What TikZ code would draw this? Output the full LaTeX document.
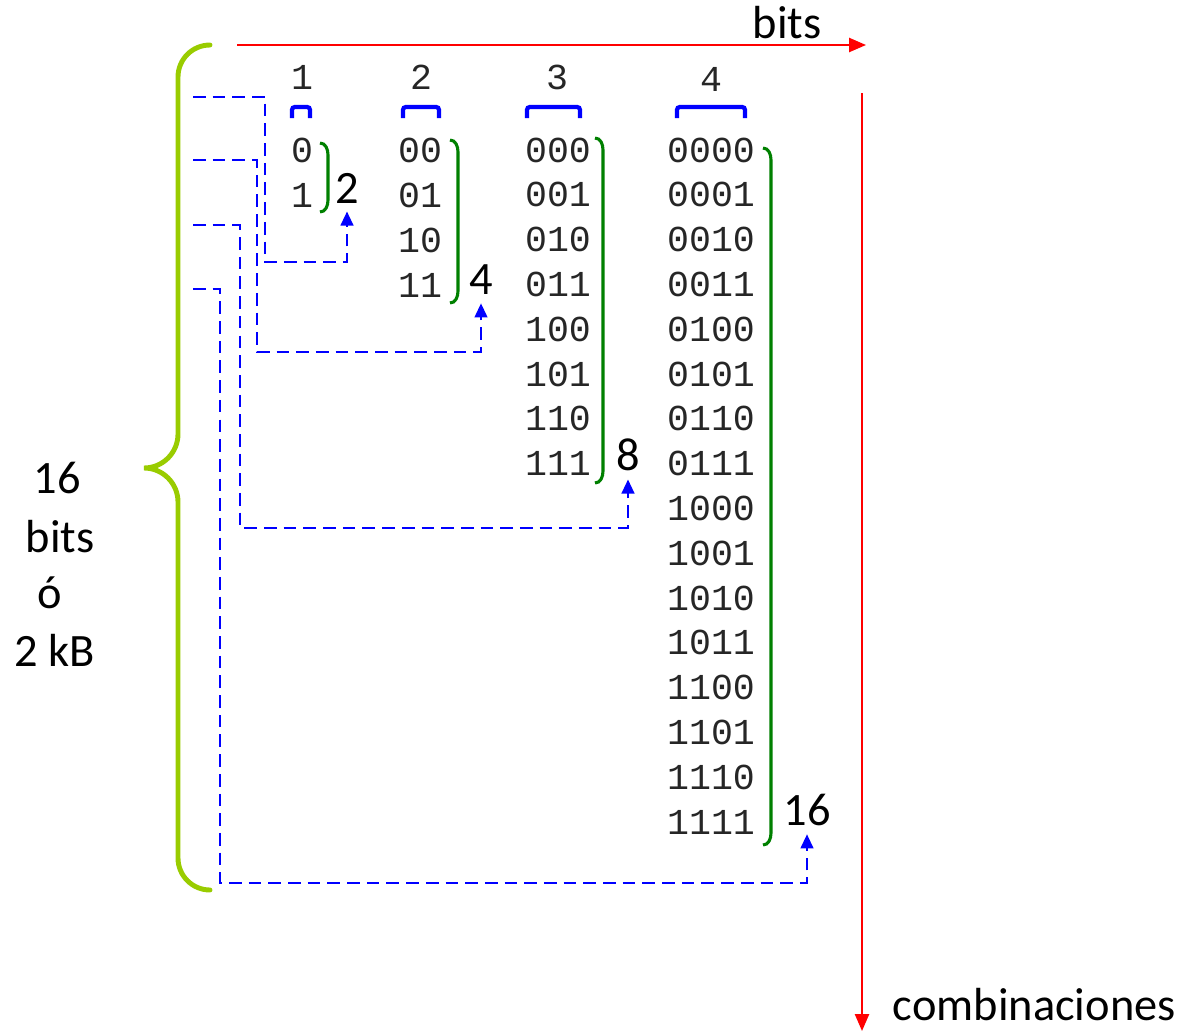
\documentclass[tikz,border=0pt]{standalone}
\usepackage{fontspec}
\setmainfont{Carlito}
\newfontfamily\bitfont{Liberation Mono}
\usetikzlibrary{arrows.meta}

\definecolor{bracegreen}{RGB}{153,204,0}
\definecolor{groupgreen}{RGB}{0,128,0}

\tikzset{
	bitcell/.style={font=\bitfont\fontsize{26}{26}\selectfont, text=black!85, inner sep=0pt},
	countlbl/.style={font=\fontsize{33}{33}\selectfont, inner sep=1pt, outer sep=5pt},
	sidelbl/.style={font=\fontsize{33}{33}\selectfont, inner sep=0pt},
	axisline/.style={red, line width=1.4pt, -{Triangle[length=12pt,width=10pt]}},
	linkline/.style={blue, line width=1.6pt, dash pattern=on 9pt off 5pt, -{Triangle[length=10pt,width=9pt]}},
	headbr/.style={blue, line width=3pt, rounded corners=2pt},
	groupbr/.style={groupgreen, line width=2.2pt},
}

\begin{document}
\begin{tikzpicture}[x=0.025cm, y=-0.025cm]
	\useasboundingbox (0,0) rectangle (1190,1033);

	% Ejes
	\coordinate (bx0) at (237,45);
	\coordinate (bx1) at (866,45);
	\coordinate (cy0) at (862,93);
	\coordinate (cy1) at (862,1031);
	\draw[axisline] (bx0) -- (bx1);
	\draw[axisline] (cy0) -- (cy1);
	\node[sidelbl] (bitslbl) at (787,23) {bits};
	\node[sidelbl, anchor=east] (comblbl) at (1176,1005) {combinaciones};

	% Encabezados
	\foreach \n/\x/\y in {1/302/77, 2/421/77, 3/557/77, 4/711/79}
		\node[bitcell] (h\n) at (\x,\y) {\n};
	\foreach \xa/\xb in {292/310, 403/439, 527/580, 677/745}
		\draw[headbr] (\xa,118) -- (\xa,107) -- (\xb,107) -- (\xb,118);

	% Combinaciones
	\foreach \v [count=\i from 0] in {0,1}
		\node[bitcell] (a\i) at (302,{150+45*\i}) {\v};
	\foreach \v [count=\i from 0] in {00,01,10,11}
		\node[bitcell] (b\i) at (420,{150+45*\i}) {\v};
	\foreach \v [count=\i from 0] in {000,001,010,011,100,101,110,111}
		\node[bitcell] (c\i) at (558,{150+44.8*\i}) {\v};
	\foreach \v [count=\i from 0] in {0000,0001,0010,0011,0100,0101,0110,0111,1000,1001,1010,1011,1100,1101,1110,1111}
		\node[bitcell] (d\i) at (711,{150+44.8*\i}) {\v};

	% Corchetes verdes
	\foreach \xl/\yt/\yb in {320/143/212, 450/140/303, 595/138/483, 763/148/845}
		\draw[groupbr] (\xl,\yt) to[out=0,in=90] ({\xl+8},{\yt+12}) -- ({\xl+8},{\yb-12}) to[out=-90,in=0] (\xl,\yb);

	% Totales
	\node[countlbl] (n2) at (347,188) {2};
	\node[countlbl] (n4) at (481,280) {4};
	\node[countlbl] (n8) at (628,455) {8};
	\node[countlbl] (n16) at (807,810) {16};

	% Llave izquierda
	\draw[bracegreen, line width=3.5pt, line cap=round]
		(210,45) arc (-90:-180:32) -- (178,434) arc (0:90:34)
		arc (-90:0:34) -- (178,858) arc (180:90:32);
	\node[sidelbl] (s16) at (57,478) {16};
	\node[sidelbl] (sbits) at (60,537) {bits};
	\node[sidelbl] (so) at (50,593) {ó};
	\node[sidelbl] (s2kb) at (55,650) {2 kB};

	% Enlaces
	\coordinate (l1) at (193,97);
	\coordinate (l2) at (193,160);
	\coordinate (l3) at (193,225);
	\coordinate (l4) at (193,289);
	\draw[linkline] (l1) -- (265,97) -- (265,262) -| (n2.south);
	\draw[linkline] (l2) -- (257,160) -- (257,352) -| (n4.south);
	\draw[linkline] (l3) -- (240,225) -- (240,528) -| (n8.south);
	\draw[linkline] (l4) -- (220,289) -- (220,883) -| (n16.south);
\end{tikzpicture}
\end{document}
